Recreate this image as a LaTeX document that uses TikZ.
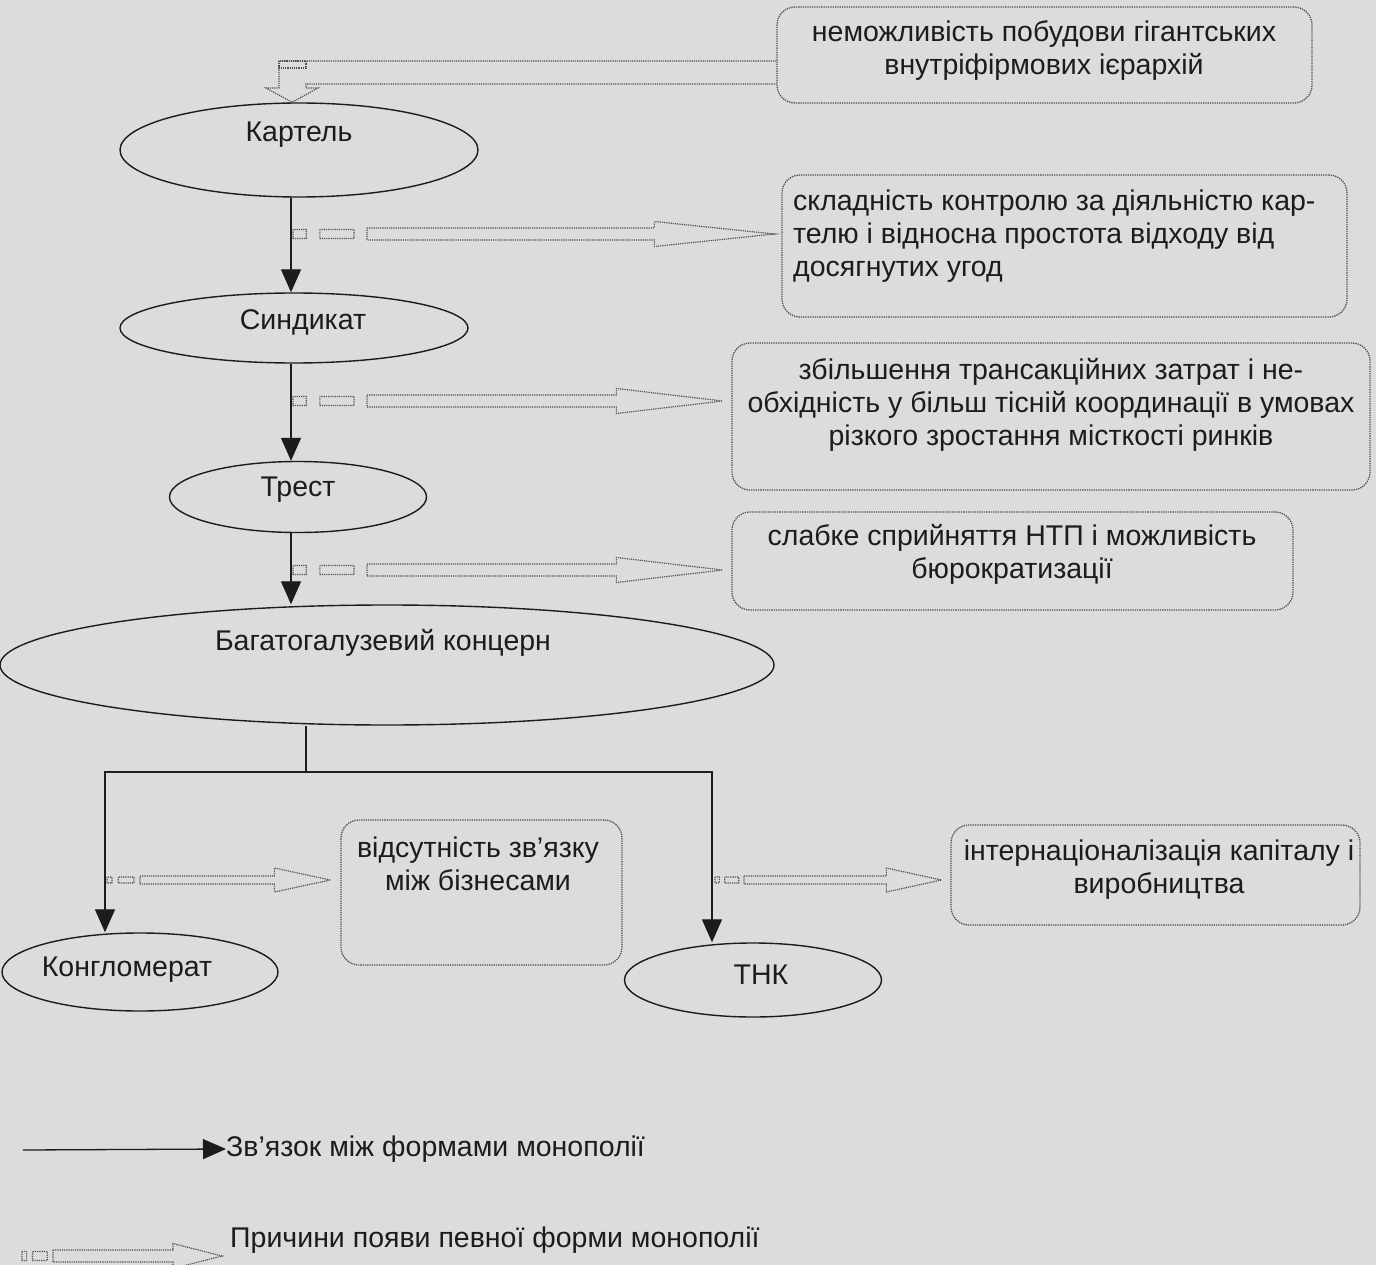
\documentclass[tikz,border=0pt]{standalone}
\usepackage{fontspec}
\setmainfont{Liberation Sans}
\usetikzlibrary{shapes.geometric,arrows.meta,calc}
\definecolor{bg}{RGB}{220,220,220}
\definecolor{ink}{RGB}{28,28,28}
\definecolor{dots}{RGB}{80,80,80}
\newcommand\harr[6]{\draw[hollow] let \p1=(#1), \p2=(#2) in
 (\x1+2,\y1+#4*0.75) rectangle (\x1+#6*0.2,\y1-#4*0.75)
 (\x1+#6*0.38,\y1+#4*0.75) rectangle (\x1+#6*0.83,\y1-#4*0.75)
 (\x1+#6,\y1+#4) -- (\x2-#3,\y1+#4) -- (\x2-#3,\y1+#5) -- (\x2,\y1) -- (\x2-#3,\y1-#5) -- (\x2-#3,\y1-#4) -- (\x1+#6,\y1-#4) -- cycle;}
\begin{document}
\begin{tikzpicture}[x=1pt,y=-1pt,
  font=\fontsize{28.5}{33}\selectfont,
  oval/.style={ellipse, draw=ink, line width=1.4pt, inner sep=0pt},
  box/.style={draw=dots, densely dotted, line width=1.3pt, rounded corners=18pt, inner sep=0pt},
  lbl/.style={text=ink, inner sep=0pt, align=center},
  link/.style={draw=ink, line width=1.3pt, -{Triangle[length=23pt,width=20pt]}},
  plain/.style={draw=ink, line width=1.3pt},
  hollow/.style={draw=dots, densely dotted, line width=1.2pt}]
\fill[bg] (0,0) rectangle (1376,1265);
\useasboundingbox (0,0) rectangle (1376,1265);

% ellipses
\node[oval, minimum width=358, minimum height=94] (kart) at (299,150) {};
\node[lbl] (kartT) at (299,135) {Картель};
\node[oval, minimum width=348, minimum height=70] (synd) at (294,328) {};
\node[lbl] (syndT) at (303,322) {Синдикат};
\node[oval, minimum width=257, minimum height=71] (trest) at (298,497) {};
\node[lbl] (trestT) at (298,490) {Трест};
\node[oval, minimum width=774, minimum height=120] (conc) at (387,665) {};
\node[lbl] (concT) at (383,643) {Багатогалузевий концерн};
\node[oval, minimum width=276, minimum height=78] (kong) at (140,972) {};
\node[lbl] (kongT) at (127,970) {Конгломерат};
\node[oval, minimum width=257, minimum height=74] (thk) at (753,980) {};
\node[lbl] (thkT) at (761,975) {ТНК};

% boxes
\node[box, minimum width=535, minimum height=96] (b1) at (1044.5,55) {};
\node[lbl] (b1t) at (1044,51) {неможливість побудови гігантських\\внутріфірмових ієрархій};
\node[box, minimum width=565, minimum height=142] (b2) at (1064.5,246) {};
\node[lbl, align=left, anchor=west] (b2t) at (793,236) {складність контролю за діяльністю кар-\\телю і відносна простота відходу від\\досягнутих угод};
\node[box, minimum width=638, minimum height=147] (b3) at (1051,416.5) {};
\node[lbl] (b3t) at (1051,405) {збільшення трансакційних затрат і не-\\обхідність у більш тісній координації в умовах\\різкого зростання місткості ринків};
\node[box, minimum width=561, minimum height=98] (b4) at (1012.5,561) {};
\node[lbl] (b4t) at (1012,554) {слабке сприйняття НТП і можливість\\бюрократизації};
\node[box, minimum width=281, minimum height=145] (b5) at (481.5,892.5) {};
\node[lbl] (b5t) at (478,864) {відсутність зв’язку\\між бізнесами};
\node[box, minimum width=409, minimum height=100] (b6) at (1155.5,875) {};
\node[lbl] (b6t) at (1159,870) {інтернаціоналізація капіталу і\\виробництва};

% coordinates
\coordinate (mx) at (291,0);
\coordinate (kx) at (292,0);
\coordinate (yA) at (0,61);
\coordinate (yB) at (0,84);
\coordinate (h1) at (291,234);
\coordinate (h2) at (291,401);
\coordinate (h3) at (291,570);
\coordinate (h4) at (105,880);
\coordinate (h5) at (713,880);
\coordinate (br) at (306,772);
\coordinate (brL) at (105,772);
\coordinate (brR) at (712,772);

% main flow
\draw[link] (kart.south -| mx) -- (synd.north -| mx);
\draw[link] (synd.south -| mx) -- (trest.north -| mx);
\draw[link] (trest.south -| mx) -- (conc.north -| mx);
\draw[plain] (conc.south -| br) -- (br);
\draw[link] (br) -- (brL) -- (brL |- kong.north);
\draw[link] (br) -- (brR) -- (brR |- thk.north);

% cause arrows
\draw[hollow] (b1.west |- yA) -- (279,61) -- (279,88) -- (266,88) -- (kart.north -| kx) -- (318,88) -- (306,88) -- (306,84) -- (b1.west |- yB);
\draw[hollow] (279,61) rectangle (306,68);
\harr{h1}{$(b2.west |- h1)+(-7,0)$}{120}{6}{12.5}{76}
\harr{h2}{$(b3.west |- h2)+(-9,0)$}{106}{6}{12.5}{76}
\harr{h3}{$(b4.west |- h3)+(-9,0)$}{106}{6}{12.5}{76}
\harr{h4}{$(b5.west |- h4)+(-10,0)$}{56}{4}{12}{35}
\harr{h5}{$(b6.west |- h5)+(-9,0)$}{55}{4}{12}{31}

% legend
\coordinate (l1) at (23,1150);
\node[lbl, anchor=west] (leg1) at (226,1149) {Зв’язок між формами монополії};
\draw[link] (l1) -- (leg1.west);
\coordinate (l2) at (20,1256);
\node[lbl, anchor=west] (leg2) at (230,1240) {Причини появи певної форми монополії};
\harr{l2}{$(leg2.west |- l2)+(-8,0)$}{49}{6}{12.5}{33}
\end{tikzpicture}
\end{document}
